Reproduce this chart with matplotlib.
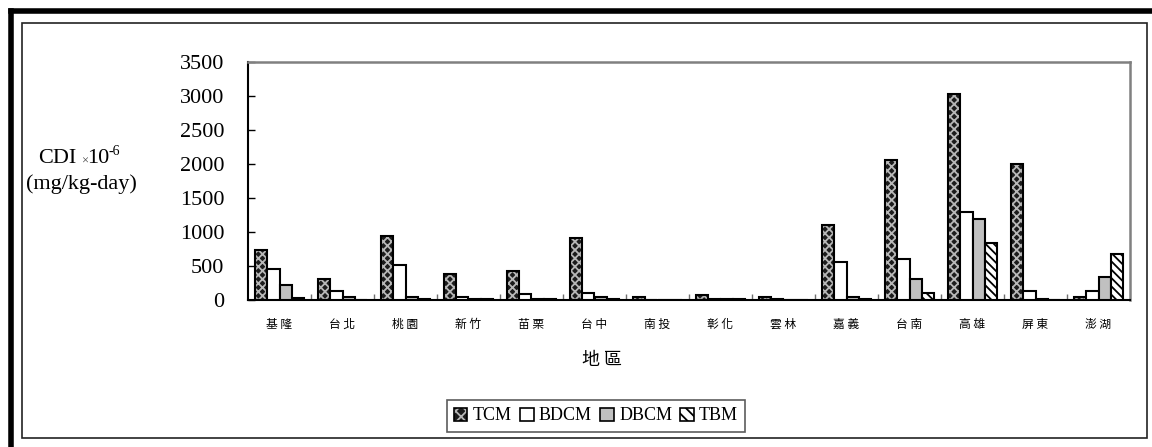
import matplotlib
matplotlib.use("Agg")
import matplotlib.pyplot as plt
import numpy as np
from matplotlib.patches import Rectangle, Patch
from matplotlib.lines import Line2D

plt.rcParams["font.family"] = ["Liberation Serif", "Noto Sans CJK TC", "DejaVu Sans"]
plt.rcParams["hatch.linewidth"] = 1.3

# --- data -------------------------------------------------------------
regions = ["基隆", "台北", "桃園", "新竹", "苗栗", "台中", "南投",
           "彰化", "雲林", "嘉義", "台南", "高雄", "屏東", "澎湖"]
tcm  = [730, 315, 935, 378, 432, 905, 48, 76, 48, 1110, 2060, 3035, 2000, 50]
bdcm = [458, 136, 520, 48, 82, 106, 0, 22, 22, 555, 606, 1288, 136, 136]
dbcm = [225, 48, 48, 22, 22, 48, 0, 22, 0, 48, 308, 1198, 22, 342]
tbm  = [24, 0, 22, 20, 18, 22, 0, 20, 0, 22, 102, 842, 0, 670]
series_names = ["TCM", "BDCM", "DBCM", "TBM"]
y_ticks = [0, 500, 1000, 1500, 2000, 2500, 3000, 3500]

W, H = 1152, 447
fig = plt.figure(figsize=(W / 100, H / 100), dpi=100)


def fx(px):
    return px / W


def fy(py):
    return 1 - py / H


# outer frame: heavy border on top/left, thin inner box
fig.add_artist(Line2D([fx(10.5), fx(1152)], [fy(10.5), fy(10.5)],
                      transform=fig.transFigure, color="black", lw=4))
fig.add_artist(Line2D([fx(10.5), fx(10.5)], [fy(10.5), fy(447)],
                      transform=fig.transFigure, color="black", lw=4))
fig.add_artist(Rectangle((fx(22), fy(438)), fx(1147 - 22), (438 - 23) / H,
                         transform=fig.transFigure, fill=False,
                         ec="#222222", lw=1.2))

ax = fig.add_axes([fx(248), fy(300), fx(1130 - 248), (300 - 62) / H])

n = len(regions)
x = np.arange(n)
bw = 0.195
offsets = (np.arange(4) - 1.5) * bw

# TCM: dark lattice fill, then a black outline on top
ax.bar(x + offsets[0], tcm, bw, color="#1c1c1c", edgecolor="#b8b8b8",
       hatch="xxxx", lw=0, zorder=2)
ax.bar(x + offsets[0], tcm, bw, fill=False, edgecolor="black", lw=1.5, zorder=3)
ax.bar(x + offsets[1], bdcm, bw, color="white", edgecolor="black", lw=1.5, zorder=3)
ax.bar(x + offsets[2], dbcm, bw, color="#c0c0c0", edgecolor="black", lw=1.5, zorder=3)
ax.bar(x + offsets[3], tbm, bw, color="white", edgecolor="black",
       hatch="\\\\\\\\", lw=1.5, zorder=3)

ax.set_xlim(-0.5, n - 0.5)
ax.set_ylim(0, 3500)
ax.set_yticks(y_ticks)
ax.set_yticklabels([str(v) for v in y_ticks], fontsize=16)
ax.tick_params(axis="y", direction="in", length=5, width=1, pad=17)

ax.set_xticks(x)
ax.set_xticklabels([r[0] + " " + r[1] for r in regions], fontsize=8.5,
                   family=["Noto Sans CJK TC"])
ax.tick_params(axis="x", which="major", length=0, pad=13)
ax.set_xticks(np.arange(0.5, n - 0.5, 1), minor=True)
ax.tick_params(axis="x", which="minor", direction="in", length=4,
               width=1, color="#707070")

for side in ("left", "bottom"):
    ax.spines[side].set_color("black")
    ax.spines[side].set_linewidth(1.5)
for side in ("top", "right"):
    ax.spines[side].set_color("#808080")
    ax.spines[side].set_linewidth(1.8)

# y-axis title, built from pieces: "CDI", small "×", "10", raised "-6"
fig.text(fx(38), fy(163), "CDI", fontsize=16, ha="left", va="baseline")
fig.text(fx(81), fy(165), "×", fontsize=9, ha="left", va="baseline",
         color="#444444")
fig.text(fx(87), fy(163), "10", fontsize=16, ha="left", va="baseline")
fig.text(fx(108.5), fy(155), "-6", fontsize=10, ha="left", va="baseline")
fig.text(fx(81), fy(184), "(mg/kg-day)", fontsize=16, ha="center", va="center")
fig.text(fx(602), fy(360), "地 區", fontsize=13, ha="center", va="center",
         family=["Noto Sans CJK TC"])

# legend
h_tcm = (Patch(facecolor="#1c1c1c", edgecolor="#b8b8b8", hatch="xxx", lw=0),
         Patch(fill=False, edgecolor="black", lw=1.2))
h_bdcm = Patch(facecolor="white", edgecolor="black", lw=1.2)
h_dbcm = Patch(facecolor="#c0c0c0", edgecolor="black", lw=1.2)
h_tbm = Patch(facecolor="white", edgecolor="black", hatch="\\\\\\", lw=1.2)
leg = fig.legend([h_tcm, h_bdcm, h_dbcm, h_tbm], series_names, ncol=4,
                 loc="center", bbox_to_anchor=(fx(596), fy(416)),
                 fontsize=13, frameon=True, fancybox=False,
                 handlelength=0.75, handleheight=0.75, handletextpad=0.3,
                 columnspacing=0.45, borderpad=0.4, borderaxespad=0)
leg.get_frame().set_edgecolor("#333333")
leg.get_frame().set_linewidth(1.2)

fig.savefig("out.png", dpi=100)
